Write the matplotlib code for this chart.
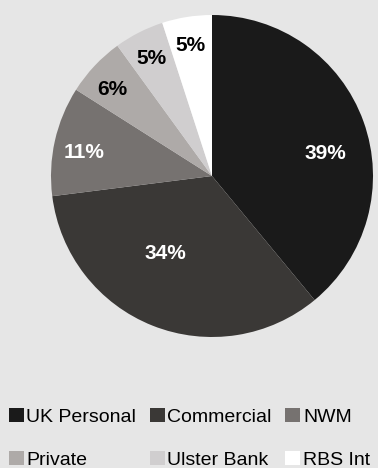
import numpy as np
from matplotlib import pyplot as plt
from matplotlib.patches import Patch

# доли подразделений, %
labels = ["UK Personal", "Commercial", "NWM", "Private", "Ulster Bank", "RBS Int"]
shares = [39, 34, 11, 6, 5, 5]
colors = ["#1a1a1a", "#3a3836", "#767270", "#aeaaa8", "#d0cecf", "#ffffff"]
txt_colors = ["white", "white", "white", "black", "black", "black"]

# положение подписей: радиус и сдвиг угла от середины сектора
lbl_r = [0.72, 0.56, 0.81, 0.82, 0.82, 0.82]
lbl_shift = [-8.4, -9.2, 2.2, 2.0, 0.4, 0.3]

plt.rcParams['font.family'] = ['Liberation Sans', 'DejaVu Sans']
bg = "#e6e6e6"

fig = plt.figure(figsize=(3.78, 4.68), dpi=100, facecolor=bg)
ax = fig.add_axes([51 / 378, (468 - 337) / 468, 322 / 378, 322 / 468])
ax.set_facecolor(bg)

wedges, _ = ax.pie(shares, colors=colors, startangle=90, counterclock=False,
                   radius=1, wedgeprops=dict(linewidth=0))
ax.set_xlim(-1, 1)
ax.set_ylim(-1, 1)

for w, s, c, r, d in zip(wedges, shares, txt_colors, lbl_r, lbl_shift):
    ang = np.deg2rad((w.theta1 + w.theta2) / 2 + d)
    ax.text(r * np.cos(ang), r * np.sin(ang), f"{s}%", color=c,
            fontsize=15, fontweight="bold", ha="center", va="center")

# легенда заполняется по столбцам, переставим чтобы шла по строкам
handles = [Patch(facecolor=c, edgecolor="none") for c in colors]
order = [0, 3, 1, 4, 2, 5]
fig.legend([handles[i] for i in order], [labels[i] for i in order],
           ncol=3, loc="upper left",
           bbox_to_anchor=(9 / 378, 1 - 408 / 468), frameon=False,
           fontsize=14, handlelength=0.75, handleheight=0.75,
           handletextpad=0.15, columnspacing=0.7, labelspacing=1.3,
           borderaxespad=0, borderpad=0)

fig.savefig("out.png", dpi=100, facecolor=bg)
